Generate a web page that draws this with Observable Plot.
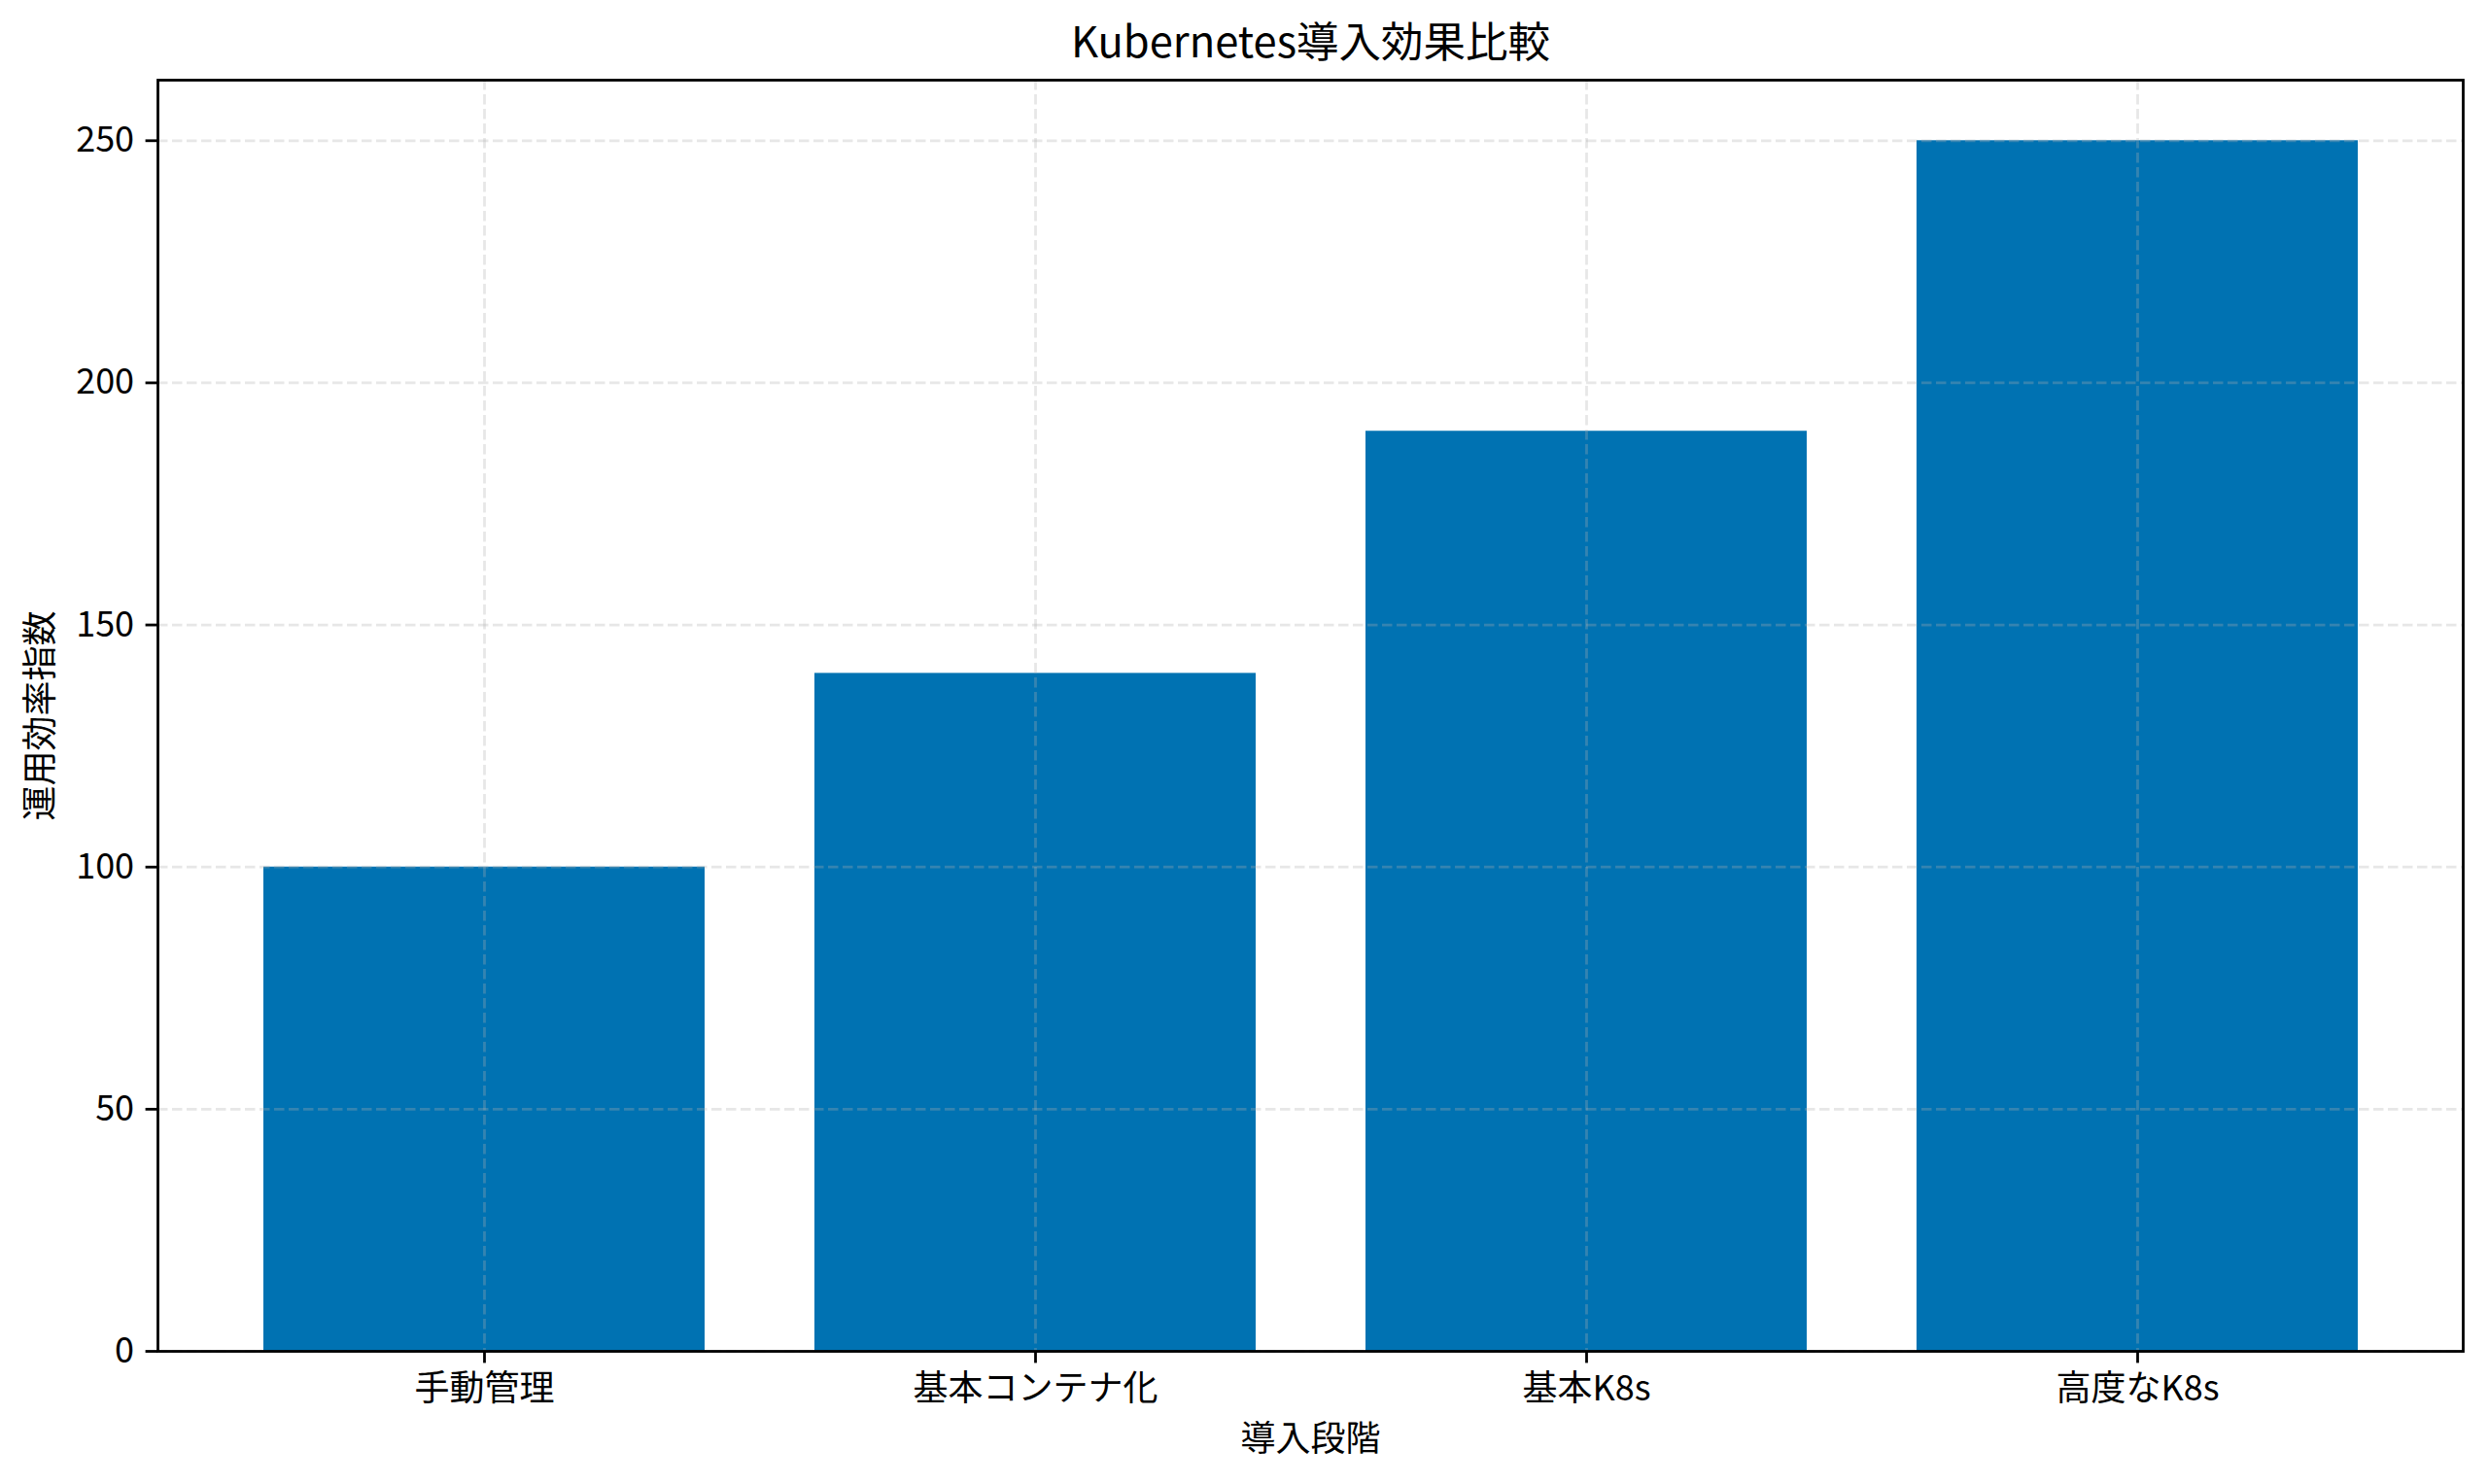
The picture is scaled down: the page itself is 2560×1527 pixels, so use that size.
<!DOCTYPE html>
<html>
<head>
<meta charset="utf-8">
<script src="https://cdn.jsdelivr.net/npm/d3@7"></script>
<script src="https://cdn.jsdelivr.net/npm/@observablehq/plot@0.6"></script>
<style>
  html, body { margin: 0; padding: 0; background: #fff; }
  svg { display: block; }
</style>
</head>
<body>
<div id="chart"></div>
<script>
const categories = ["手動管理", "基本コンテナ化", "基本K8s", "高度なK8s"];
const values = [100, 140, 190, 250];
const yTicks = [0, 50, 100, 150, 200, 250];
const title = "Kubernetes導入効果比較";
const xLabel = "導入段階";
const yLabel = "運用効率指数";

const data = categories.map((c, i) => ({stage: c, value: values[i]}));
const font = "'Noto Sans CJK JP', 'Noto Sans', sans-serif";

const chart = Plot.plot({
  width: 2560,
  height: 1527,
  marginLeft: 162,
  marginRight: 26,
  marginTop: 82,
  marginBottom: 137,
  style: {fontFamily: font, background: "#fff", color: "#000"},
  x: {domain: categories, paddingInner: 0.2, paddingOuter: 0.19, label: null},
  y: {domain: [0, 262.5], label: null},
  marks: [
    Plot.barY(data, {x: "stage", y: "value", fill: "#0072B2"}),
    Plot.gridY(yTicks, {stroke: "#b0b0b0", strokeOpacity: 0.3, strokeWidth: 2.8, strokeDasharray: "10.5,4.5"}),
    Plot.gridX(categories, {stroke: "#b0b0b0", strokeOpacity: 0.3, strokeWidth: 2.8, strokeDasharray: "10.5,4.5"}),
    Plot.frame({stroke: "#000", strokeWidth: 2.8}),
    Plot.axisY(yTicks, {tickSize: 12.4, tickPadding: 12, fontSize: 36, strokeWidth: 2.8, label: null, tickFormat: d => String(d)}),
    Plot.axisX(categories, {tickSize: 12.4, tickPadding: 13, fontSize: 36, strokeWidth: 2.8, label: null}),
    Plot.text([title], {frameAnchor: "top", text: d => d, dy: -24, lineAnchor: "bottom", fontSize: 43.5, fill: "#000"}),
    Plot.text([xLabel], {frameAnchor: "bottom", text: d => d, dy: 91, lineAnchor: "middle", fontSize: 36, fill: "#000"}),
    Plot.text([yLabel], {frameAnchor: "left", text: d => d, dx: -120, rotate: -90, lineAnchor: "middle", textAnchor: "middle", fontSize: 36, fill: "#000"})
  ]
});
document.getElementById("chart").appendChild(chart);
</script>
</body>
</html>
